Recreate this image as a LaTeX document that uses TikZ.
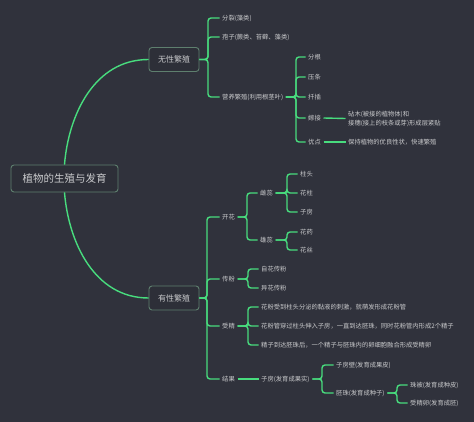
\documentclass[tikz,border=0pt]{standalone}
\usepackage{fontspec}
\setmainfont{Noto Sans CJK SC}
\usetikzlibrary{positioning}

\definecolor{bg}{HTML}{30323C}
\definecolor{lnk}{HTML}{48DC7E}
\definecolor{boxline}{HTML}{5E7F6E}
\definecolor{boxfill}{HTML}{2D2F38}
\definecolor{txt}{HTML}{C9CACC}

\begin{document}
\begin{tikzpicture}[x=1pt, y=-1pt,
	link/.style={lnk, line width=1.4pt, rounded corners=3pt},
	leaf/.style={anchor=west, inner sep=2.5pt, text=txt, font=\fontsize{6.3}{9}\selectfont},
	topic/.style={draw=boxline, fill=boxfill, line width=0.9pt, rounded corners=3pt, text=txt,
		minimum width=50pt, minimum height=24pt, font=\fontsize{8}{10}\selectfont}]
	\fill [bg] (0,0) rectangle (474,422);
	% main topics
	\node [topic, minimum width=107pt, minimum height=27pt, font=\fontsize{10.5}{12}\selectfont] (root) at (64.5,178.5) {植物的生殖与发育};
	\node [topic] (wx) at (174,59.5) {无性繁殖};
	\node [topic] (yx) at (174,298) {有性繁殖};
	\draw [link] (root.north) .. controls +(4,-50) and +(-54,0) .. (wx.west);
	\draw [link] (root.south) .. controls +(4,50) and +(-54,0) .. (yx.west);
	% asexual
	\node [leaf] (fl) at (219.5,18) {分裂(藻类)};
	\node [leaf] (bz) at (219.5,37) {孢子(蕨类、苔藓、藻类)};
	\node [leaf] (yy) at (219.5,97) {营养繁殖(利用根茎叶)};
	\node [leaf] (fg) at (305.5,57) {分根};
	\node [leaf] (yt) at (305.5,77) {压条};
	\node [leaf] (qc) at (305.5,97) {扦插};
	\node [leaf] (jj) at (305.5,118) {嫁接};
	\node [leaf] (yd) at (305.5,142) {优点};
	\node [leaf, align=left] (zm) at (345.5,118.5) {砧木(被接的植物体)和\\接穗(接上的枝条或芽)形成层紧贴};
	\node [leaf] (bc) at (345.5,142) {保持植物的优良性状，快速繁殖};
	\coordinate (jwx) at (208,59.5);
	\coordinate (jyy) at (296,97);
	\draw [link] (wx.east) -- (jwx) |- (fl.west);
	\draw [link] (wx.east) -- (jwx) |- (bz.west);
	\draw [link] (wx.east) -- (jwx) |- (yy.west);
	\draw [link] (yy.east) -- (jyy) |- (fg.west);
	\draw [link] (yy.east) -- (jyy) |- (yt.west);
	\draw [link] (yy.east) -- (jyy) |- (qc.west);
	\draw [link] (yy.east) -- (jyy) |- (jj.west);
	\draw [link] (yy.east) -- (jyy) |- (yd.west);
	\draw [link] (jj.east) -- (zm.west);
	\draw [link] (yd.east) -- (bc.west);
	% sexual
	\node [leaf] (kh) at (219.5,217) {开花};
	\node [leaf] (cr) at (257.5,193) {雌蕊};
	\node [leaf] (xr) at (257.5,240) {雄蕊};
	\node [leaf] (zt) at (297.5,174) {柱头};
	\node [leaf] (hz) at (297.5,193) {花柱};
	\node [leaf] (zf) at (297.5,212) {子房};
	\node [leaf] (hy) at (297.5,232) {花药};
	\node [leaf] (hs) at (297.5,250) {花丝};
	\node [leaf] (cf) at (219.5,279) {传粉};
	\node [leaf] (zh) at (258.5,269) {自花传粉};
	\node [leaf] (yh) at (258.5,288) {异花传粉};
	\node [leaf] (sj) at (219.5,326) {受精};
	\node [leaf] (sa) at (258.5,307) {花粉受到柱头分泌的黏液的刺激，就萌发形成花粉管};
	\node [leaf] (sb) at (258.5,326) {花粉管穿过柱头伸入子房，一直到达胚珠，同时花粉管内形成2个精子};
	\node [leaf] (sc) at (258.5,345) {精子到达胚珠后，一个精子与胚珠内的卵细胞融合形成受精卵};
	\node [leaf] (jg) at (219.5,379) {结果};
	\node [leaf] (zfs) at (258.5,379) {子房(发育成果实)};
	\node [leaf] (zfb) at (333.5,365) {子房壁(发育成果皮)};
	\node [leaf] (pz) at (333.5,393) {胚珠(发育成种子)};
	\node [leaf] (zb) at (407.5,385) {珠被(发育成种皮)};
	\node [leaf] (sjl) at (407.5,403) {受精卵(发育成胚)};
	\coordinate (jyx) at (207,298);
	\coordinate (jkh) at (247,217);
	\coordinate (jcr) at (287,193);
	\coordinate (jxr) at (287,240);
	\coordinate (jcf) at (248,279);
	\coordinate (jsj) at (248,326);
	\coordinate (jzf) at (322,379);
	\coordinate (jpz) at (397,393);
	\draw [link] (yx.east) -- (jyx) |- (kh.west);
	\draw [link] (yx.east) -- (jyx) |- (cf.west);
	\draw [link] (yx.east) -- (jyx) |- (sj.west);
	\draw [link] (yx.east) -- (jyx) |- (jg.west);
	\draw [link] (kh.east) -- (jkh) |- (cr.west);
	\draw [link] (kh.east) -- (jkh) |- (xr.west);
	\draw [link] (cr.east) -- (jcr) |- (zt.west);
	\draw [link] (cr.east) -- (jcr) |- (hz.west);
	\draw [link] (cr.east) -- (jcr) |- (zf.west);
	\draw [link] (xr.east) -- (jxr) |- (hy.west);
	\draw [link] (xr.east) -- (jxr) |- (hs.west);
	\draw [link] (cf.east) -- (jcf) |- (zh.west);
	\draw [link] (cf.east) -- (jcf) |- (yh.west);
	\draw [link] (sj.east) -- (jsj) |- (sa.west);
	\draw [link] (sj.east) -- (jsj) |- (sb.west);
	\draw [link] (sj.east) -- (jsj) |- (sc.west);
	\draw [link] (jg.east) -- (zfs.west);
	\draw [link] (zfs.east) -- (jzf) |- (zfb.west);
	\draw [link] (zfs.east) -- (jzf) |- (pz.west);
	\draw [link] (pz.east) -- (jpz) |- (zb.west);
	\draw [link] (pz.east) -- (jpz) |- (sjl.west);
\end{tikzpicture}
\end{document}
